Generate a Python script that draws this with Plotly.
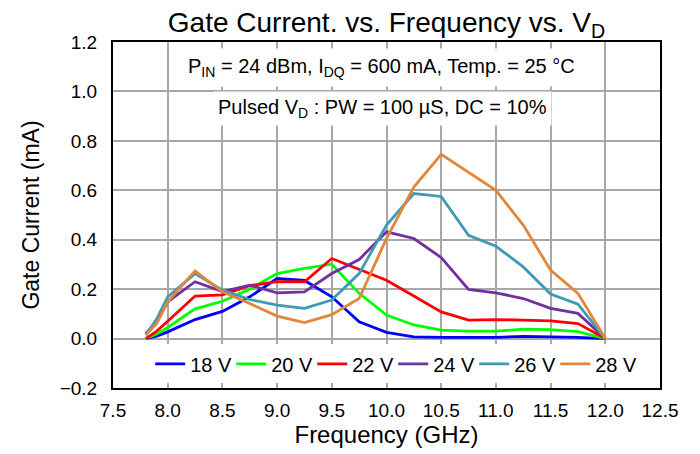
import plotly.graph_objects as go

freq = [7.8, 7.9, 8.0, 8.25, 8.5, 8.75, 9.0, 9.25, 9.5, 9.75, 10.0, 10.25, 10.5, 10.75, 11.0, 11.25, 11.5, 11.75, 12.0]

v18 = [0.0, 0.01, 0.027, 0.077, 0.11, 0.169, 0.243, 0.235, 0.169, 0.068, 0.025, 0.007, 0.005, 0.004, 0.005, 0.009, 0.008, 0.005, 0.0]
v20 = [0.0, 0.018, 0.045, 0.12, 0.151, 0.2, 0.263, 0.284, 0.301, 0.183, 0.095, 0.055, 0.034, 0.03, 0.03, 0.038, 0.036, 0.028, 0.0]
v22 = [0.0, 0.03, 0.07, 0.172, 0.177, 0.214, 0.23, 0.23, 0.324, 0.28, 0.236, 0.172, 0.108, 0.075, 0.077, 0.075, 0.072, 0.061, 0.0]
v24 = [0.021, 0.068, 0.149, 0.23, 0.19, 0.216, 0.185, 0.189, 0.263, 0.32, 0.432, 0.405, 0.328, 0.199, 0.185, 0.162, 0.122, 0.102, 0.0]
v26 = [0.014, 0.08, 0.169, 0.263, 0.196, 0.158, 0.135, 0.122, 0.156, 0.263, 0.459, 0.587, 0.575, 0.418, 0.374, 0.29, 0.18, 0.139, 0.0]
v28 = [0.014, 0.061, 0.149, 0.274, 0.189, 0.142, 0.091, 0.065, 0.097, 0.162, 0.405, 0.613, 0.745, 0.674, 0.6, 0.459, 0.277, 0.183, 0.0]

series_names = ["18 V", "20 V", "22 V", "24 V", "26 V", "28 V"]
series_vals = [v18, v20, v22, v24, v26, v28]
colors = ["#0000FF", "#00FF00", "#FF0000", "#7030A0", "#3F9AB5", "#E2873A"]

x_ticks = [7.5, 8.0, 8.5, 9.0, 9.5, 10.0, 10.5, 11.0, 11.5, 12.0, 12.5]
y_ticks = [-0.2, 0.0, 0.2, 0.4, 0.6, 0.8, 1.0, 1.2]

FONT = "Liberation Sans, Arial, sans-serif"

fig = go.Figure()
for name, vals, col in zip(series_names, series_vals, colors):
    fig.add_trace(go.Scatter(x=freq, y=vals, mode="lines", name=name,
                             line=dict(color=col, width=2.8)))

fig.update_layout(
    width=700, height=454,
    margin=dict(l=105, r=48, t=34, b=74),
    paper_bgcolor="white", plot_bgcolor="white",
    font=dict(family=FONT, size=19, color="black"),
    title=dict(text="Gate Current. vs. Frequency vs. V<sub>D</sub>",
               xref="paper", x=0.5, xanchor="center",
               yref="container", y=0.969, yanchor="middle",
               font=dict(size=28, family=FONT)),
    showlegend=True,
    legend=dict(orientation="h", x=0.068, xanchor="left", y=0.07, yanchor="middle",
                bgcolor="white", font=dict(size=20), entrywidth=36, entrywidthmode="pixels",
                itemwidth=30, tracegroupgap=0),
)

fig.update_xaxes(range=[7.5, 12.5], tickvals=x_ticks, tickformat=".1f",
                 showgrid=True, gridcolor="#A8A8A8", gridwidth=1.8,
                 showline=True, linecolor="black", linewidth=2, mirror=True,
                 ticks="", tickfont=dict(size=19), zeroline=False, automargin=False,
                 ticklabelstandoff=4,
                 title=dict(text="Frequency (GHz)", font=dict(size=24), standoff=4))
fig.update_yaxes(range=[-0.2, 1.2], tickvals=y_ticks, tickformat=".1f",
                 showgrid=True, gridcolor="#A8A8A8", gridwidth=1.8,
                 showline=True, linecolor="black", linewidth=2, mirror=True,
                 ticks="", tickfont=dict(size=19), zeroline=False, automargin=False,
                 ticklabelstandoff=10,
                 title=dict(text="Gate Current (mA)", font=dict(size=23), standoff=14))

fig.add_annotation(xref="paper", yref="paper", x=0.491, y=0.925, xanchor="center", yanchor="middle",
                   text="P<sub>IN</sub> = 24 dBm, I<sub>DQ</sub> = 600 mA, Temp. = 25 °C",
                   showarrow=False, bgcolor="white", borderpad=6, font=dict(size=20))
fig.add_annotation(xref="paper", yref="paper", x=0.493, y=0.809, xanchor="center", yanchor="middle",
                   text="Pulsed V<sub>D</sub> : PW = 100 µS, DC = 10%",
                   showarrow=False, bgcolor="white", borderpad=4, font=dict(size=20))

fig.write_html("out.html")
